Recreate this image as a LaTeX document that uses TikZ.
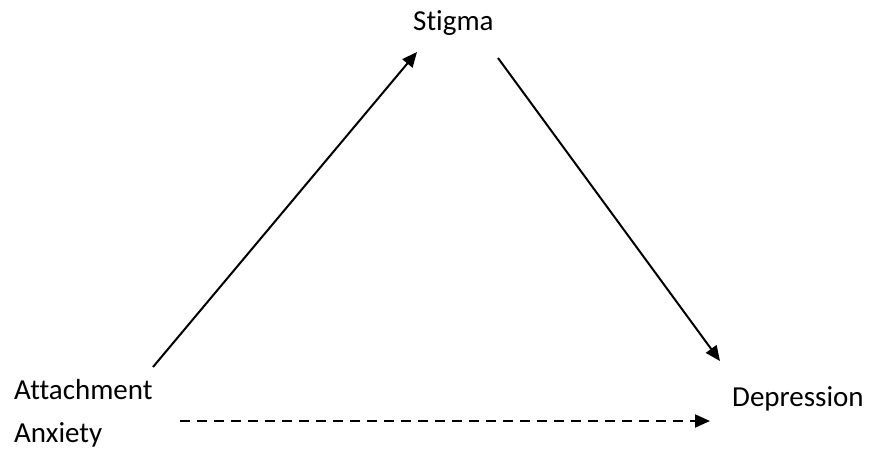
\documentclass[tikz,border=0pt]{standalone}
\usepackage{fontspec}
\setmainfont{Carlito}[Ligatures=CommonOff]
\usepackage{tikz}
\usetikzlibrary{arrows.meta, calc}
\tikzset{
  label text/.style={inner sep=0pt, font=\fontsize{29}{43}\selectfont},
  link/.style={draw, line width=2pt, -{Triangle[length=15pt, width=13pt]}},
  weak link/.style={link, dash pattern=on 10pt off 7pt},
}
\begin{document}
\begin{tikzpicture}[x=1pt, y=-1pt]
  \useasboundingbox (0,0) rectangle (870,450);
  \node[label text, anchor=base west] (stig) at (413,30) {Stigma};
  \node[label text, anchor=base west, align=left] (att) at (14,442) {Attachment\\Anxiety};
  \node[label text, anchor=base west] (dep) at (732,406) {Depression};

  \draw[link] ([shift={(139,-75)}]att.base west) -- ([shift={(4,22)}]stig.base west);
  \draw[link] ([shift={(85,28)}]stig.base west) -- ([shift={(-12,-45)}]dep.base west);
  \draw[weak link] ([shift={(166,-21)}]att.base west) -- ([shift={(-22,15)}]dep.base west);
\end{tikzpicture}
\end{document}
